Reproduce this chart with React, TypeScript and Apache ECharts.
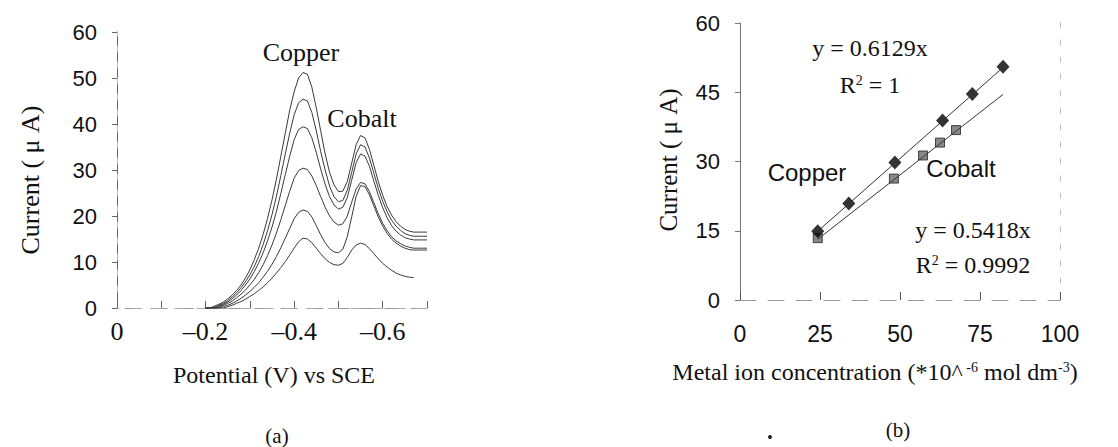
import React, { useEffect, useRef } from "react";
import * as echarts from "echarts";

// ---------- (a) voltammograms ----------
const potentials = [
  -0.2, -0.21, -0.22, -0.23, -0.24, -0.25, -0.26, -0.27, -0.28, -0.29,
  -0.3, -0.31, -0.32, -0.33, -0.34, -0.35, -0.36, -0.37, -0.38, -0.39,
  -0.4, -0.41, -0.42, -0.43, -0.44, -0.45, -0.46, -0.47, -0.48, -0.49,
  -0.5, -0.51, -0.52, -0.53, -0.54, -0.55, -0.56, -0.57, -0.58, -0.59,
  -0.6, -0.61, -0.62, -0.63, -0.64, -0.65, -0.66, -0.67, -0.68, -0.69, -0.7,
];
const curve1 = [
  0, 0, 0.4, 0.8, 1.3, 2.0, 2.8, 3.8, 5.0, 6.5,
  8.3, 10.5, 13.0, 16.0, 19.5, 23.5, 28.0, 33.0, 38.0, 43.0,
  47.0, 50.0, 51.2, 50.8, 48.0, 43.5, 38.5, 33.5, 29.5, 26.8,
  25.3, 25.4, 27.5, 31.5, 35.5, 37.5, 37.0, 34.5, 31.0, 27.5,
  24.5, 22.0, 20.2, 18.8, 17.8, 17.1, 16.7, 16.5, 16.5, 16.5, 16.5,
];
const curve2 = [
  0, 0, 0.2, 0.6, 1.0, 1.6, 2.4, 3.3, 4.4, 5.7,
  7.2, 9.0, 11.2, 13.8, 16.8, 20.3, 24.3, 28.8, 33.5, 38.0,
  42.0, 44.6, 45.4, 45.0, 42.5, 38.5, 34.0, 30.0, 26.5, 24.2,
  23.1, 23.4, 25.6, 29.5, 33.5, 35.5, 35.0, 32.6, 29.3, 26.0,
  23.2, 20.9, 19.1, 17.8, 16.9, 16.2, 15.8, 15.6, 15.6, 15.6, 15.6,
];
const curve3 = [
  0, 0, 0, 0.4, 0.8, 1.3, 2.0, 2.8, 3.8, 5.0,
  6.3, 7.9, 9.8, 12.0, 14.6, 17.6, 21.0, 24.9, 29.0, 33.0,
  36.6, 38.8, 39.4, 39.0, 37.0, 33.8, 30.2, 26.9, 24.2, 22.4,
  21.5, 21.9, 24.0, 27.8, 31.6, 33.5, 33.0, 30.8, 27.6, 24.5,
  21.8, 19.6, 17.9, 16.7, 15.9, 15.3, 15.0, 14.8, 14.8, 14.8, 14.8,
];
const curve4 = [
  0, 0, 0, 0.2, 0.6, 1.0, 1.5, 2.2, 3.0, 3.9,
  5.0, 6.2, 7.7, 9.4, 11.4, 13.7, 16.3, 19.2, 22.3, 25.4,
  28.2, 29.9, 30.4, 30.1, 28.7, 26.6, 24.2, 21.9, 20.0, 18.7,
  18.0, 18.3, 20.0, 23.0, 25.9, 27.3, 27.0, 25.3, 22.9, 20.5,
  18.4, 16.8, 15.5, 14.6, 14.0, 13.5, 13.2, 13.0, 13.0, 13.0, 13.0,
];
const curve5 = [
  0, 0, 0, 0, 0.3, 0.6, 1.0, 1.5, 2.1, 2.8,
  3.6, 4.5, 5.5, 6.7, 8.0, 9.5, 11.2, 13.1, 15.2, 17.3,
  19.4, 20.8, 21.3, 21.0, 19.8, 17.9, 15.9, 14.2, 12.9, 12.2,
  12.0, 12.8, 15.5, 19.8, 24.3, 26.6, 26.4, 24.6, 22.2, 19.8,
  17.8, 16.2, 15.0, 14.1, 13.5, 13.0, 12.7, 12.6, 12.6, 12.6, 12.6,
];
const curve6 = [
  0, 0, 0, 0, 0, 0.3, 0.6, 1.0, 1.4, 1.9,
  2.5, 3.1, 3.8, 4.6, 5.5, 6.5, 7.6, 8.8, 10.1, 11.5,
  13.0, 14.4, 15.2, 15.0, 14.2, 13.0, 11.8, 10.7, 9.9, 9.4,
  9.3, 9.7, 11.0, 12.6, 13.7, 14.1, 13.8, 12.9, 11.8, 10.7,
  9.7, 8.9, 8.2, 7.6, 7.2, 6.9, 6.7, 6.6, null, null, null,
];
const curves = [curve1, curve2, curve3, curve4, curve5, curve6];
const currentTicksA = [0, 10, 20, 30, 40, 50, 60];

// ---------- (b) calibration ----------
const cuConc = [24.3, 34, 48.4, 63.3, 72.6, 82.2];
const cuCurrent = [14.9, 20.9, 29.8, 38.9, 44.6, 50.5];
const coConc = [24.3, 48.1, 57.2, 62.5, 67.5];
const coCurrent = [13.4, 26.3, 31.3, 34.1, 36.8];
const cuSlope = 0.6129;
const coSlope = 0.5418;
const fitX = [24.3, 82.2];

const SERIF = "'Liberation Serif', 'Times New Roman', serif";
const SANS = "'Liberation Sans', Arial, sans-serif";

export default function App() {
  const ref = useRef<HTMLDivElement>(null);
  useEffect(() => {
    if (!ref.current) return;
    const chart = echarts.init(ref.current, null, { renderer: "svg" });

    const lineSeries = curves.map((c, i) => ({
      type: "line",
      name: "curve" + (i + 1),
      xAxisIndex: 0,
      yAxisIndex: 0,
      data: potentials.map((p, j) => [p, c[j]]),
      showSymbol: false,
      connectNulls: false,
      lineStyle: { color: "#3a3a3a", width: 1 },
    }));

    const sup = { fontSize: 14, verticalAlign: "top", fontFamily: SERIF, fill: "#111" };

    const option: any = {
      animation: false,
      backgroundColor: "#fff",
      grid: [
        { left: 117, top: 32, width: 310, height: 276 },
        { left: 740, top: 23, width: 320, height: 277 },
      ],
      xAxis: [
        {
          gridIndex: 0,
          type: "value",
          min: -0.7,
          max: 0,
          interval: 0.1,
          inverse: true,
          axisLine: { lineStyle: { color: "#999", type: [16, 10], width: 1 } },
          axisTick: { inside: true, length: 7, lineStyle: { color: "#666" } },
          splitLine: { show: false },
          axisLabel: {
            margin: 10,
            fontFamily: SERIF,
            fontSize: 26,
            color: "#111",
            formatter: (v: number) => {
              const k = Math.round(-v * 10);
              if (k % 2 !== 0) return "";
              return k === 0 ? "0" : "\u20130." + k;
            },
          },
        },
        {
          gridIndex: 0,
          type: "value",
          position: "top",
          min: -0.7,
          max: 0,
          inverse: true,
          axisLine: { show: true, lineStyle: { color: "#aaa", type: [10, 12], width: 1 } },
          axisTick: { show: false },
          axisLabel: { show: false },
          splitLine: { show: false },
        },
        {
          gridIndex: 1,
          type: "value",
          min: 0,
          max: 100,
          interval: 25,
          axisLine: { lineStyle: { color: "#999", type: [16, 12], width: 1 } },
          axisTick: { inside: true, length: 8, lineStyle: { color: "#555" } },
          splitLine: { show: false },
          axisLabel: { margin: 22, fontFamily: SANS, fontSize: 23, color: "#111" },
        },
      ],
      yAxis: [
        {
          gridIndex: 0,
          type: "value",
          min: 0,
          max: 60,
          interval: 10,
          axisLine: { show: true, lineStyle: { color: "#666", width: 1 } },
          axisTick: { show: true, length: 5, lineStyle: { color: "#666" } },
          splitLine: { show: false },
          axisLabel: {
            margin: 20,
            fontFamily: SANS,
            fontSize: 22,
            color: "#111",
            formatter: (v: number) => (currentTicksA.includes(v) ? String(v) : ""),
          },
        },
        {
          gridIndex: 0,
          type: "value",
          position: "right",
          min: 0,
          max: 60,
          axisLine: { show: true, lineStyle: { color: "#bbb", type: [6, 10], width: 1 } },
          axisTick: { show: false },
          axisLabel: { show: false },
          splitLine: { show: false },
        },
        {
          gridIndex: 1,
          type: "value",
          min: 0,
          max: 60,
          interval: 15,
          axisLine: { show: true, lineStyle: { color: "#777", width: 1 } },
          axisTick: { show: true, length: 5, lineStyle: { color: "#777" } },
          splitLine: { show: false },
          axisLabel: { margin: 20, fontFamily: SANS, fontSize: 22, color: "#111" },
        },
        {
          gridIndex: 1,
          type: "value",
          position: "right",
          min: 0,
          max: 60,
          axisLine: { show: true, lineStyle: { color: "#bbb", type: [5, 12], width: 1 } },
          axisTick: { show: false },
          axisLabel: { show: false },
          splitLine: { show: false },
        },
      ],
      series: [
        ...lineSeries,
        {
          type: "line",
          name: "Copper fit",
          xAxisIndex: 2,
          yAxisIndex: 2,
          data: fitX.map((x) => [x, cuSlope * x]),
          showSymbol: false,
          lineStyle: { color: "#333", width: 1 },
        },
        {
          type: "line",
          name: "Cobalt fit",
          xAxisIndex: 2,
          yAxisIndex: 2,
          data: fitX.map((x) => [x, coSlope * x]),
          showSymbol: false,
          lineStyle: { color: "#333", width: 1 },
        },
        {
          type: "scatter",
          name: "Cobalt",
          xAxisIndex: 2,
          yAxisIndex: 2,
          data: coConc.map((x, i) => [x, coCurrent[i]]),
          symbol: "rect",
          symbolSize: 9,
          itemStyle: { color: "#6a6a6a", borderColor: "#222", borderWidth: 1 },
        },
        {
          type: "scatter",
          name: "Copper",
          xAxisIndex: 2,
          yAxisIndex: 2,
          data: cuConc.map((x, i) => [x, cuCurrent[i]]),
          symbol: "diamond",
          symbolSize: [13, 14],
          itemStyle: { color: "#000" },
        },
      ],
      graphic: [
        { type: "text", x: 301, y: 52, style: { text: "Copper", font: `26px ${SERIF}`, fill: "#111", align: "center", verticalAlign: "middle" } },
        { type: "text", x: 362, y: 118, style: { text: "Cobalt", font: `26px ${SERIF}`, fill: "#111", align: "center", verticalAlign: "middle" } },
        { type: "text", x: 30, y: 180, rotation: Math.PI / 2, style: { text: "Current ( \u03bc A)", font: `26px ${SERIF}`, fill: "#111", align: "center", verticalAlign: "middle" } },
        { type: "text", x: 274, y: 375, style: { text: "Potential (V) vs SCE", font: `24px ${SERIF}`, fill: "#111", align: "center", verticalAlign: "middle" } },
        { type: "text", x: 277, y: 436, style: { text: "(a)", font: `21px ${SERIF}`, fill: "#111", align: "center", verticalAlign: "middle" } },

        { type: "text", x: 870, y: 48, style: { text: "y = 0.6129x", font: `24px ${SERIF}`, fill: "#111", align: "center", verticalAlign: "middle" } },
        { type: "text", x: 870, y: 85, style: { text: "R{sup|2} = 1", font: `24px ${SERIF}`, fill: "#111", align: "center", verticalAlign: "middle", rich: { sup } } },
        { type: "text", x: 807, y: 172, style: { text: "Copper", font: `24px ${SANS}`, fill: "#111", align: "center", verticalAlign: "middle" } },
        { type: "text", x: 961, y: 168, style: { text: "Cobalt", font: `24px ${SANS}`, fill: "#111", align: "center", verticalAlign: "middle" } },
        { type: "text", x: 973, y: 230, style: { text: "y = 0.5418x", font: `24px ${SERIF}`, fill: "#111", align: "center", verticalAlign: "middle" } },
        { type: "text", x: 973, y: 265, style: { text: "R{sup|2} = 0.9992", font: `24px ${SERIF}`, fill: "#111", align: "center", verticalAlign: "middle", rich: { sup } } },
        { type: "text", x: 668, y: 160, rotation: Math.PI / 2, style: { text: "Current ( \u03bc A)", font: `25px ${SERIF}`, fill: "#111", align: "center", verticalAlign: "middle" } },
        {
          type: "text",
          x: 875,
          y: 372,
          style: {
            text: "Metal ion concentration (*10^{sup| -6} mol dm{sup|-3})",
            font: `24px ${SERIF}`,
            fill: "#111",
            align: "center",
            verticalAlign: "middle",
            rich: { sup: { fontSize: 14, verticalAlign: "top", fontFamily: SERIF, fill: "#111" } },
          },
        },
        { type: "text", x: 898, y: 430, style: { text: "(b)", font: `21px ${SERIF}`, fill: "#111", align: "center", verticalAlign: "middle" } },
        { type: "circle", shape: { cx: 770, cy: 437, r: 2 }, style: { fill: "#222" } },
      ],
    };

    chart.setOption(option);
    return () => chart.dispose();
  }, []);

  return (
    <div
      ref={ref}
      style={{ position: "absolute", left: 0, top: 0, width: 1118, height: 447, background: "#fff" }}
    />
  );
}
